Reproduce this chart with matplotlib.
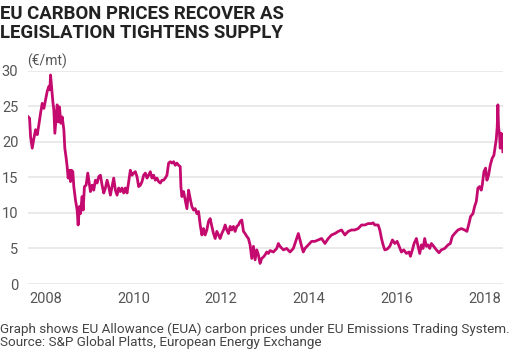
import matplotlib.pyplot as plt
import numpy as np

# EUA carbon price (EUR/mt)
years = [
    2007.606, 2007.636, 2007.659, 2007.697, 2007.735, 2007.773, 2007.811, 2007.848,
    2007.886, 2007.924, 2007.962, 2008.000, 2008.038, 2008.076, 2008.098, 2008.114,
    2008.136, 2008.167, 2008.189, 2008.212, 2008.242, 2008.265, 2008.288, 2008.318,
    2008.348, 2008.379, 2008.417, 2008.439, 2008.470, 2008.492, 2008.515, 2008.545,
    2008.568, 2008.591, 2008.621, 2008.644, 2008.682, 2008.720, 2008.742, 2008.773,
    2008.795, 2008.833, 2008.856, 2008.886, 2008.924, 2008.962, 2008.985, 2009.023,
    2009.061, 2009.098, 2009.136, 2009.174, 2009.212, 2009.250, 2009.288, 2009.326,
    2009.364, 2009.402, 2009.439, 2009.477, 2009.515, 2009.553, 2009.591, 2009.629,
    2009.667, 2009.705, 2009.742, 2009.780, 2009.818, 2009.856, 2009.894, 2009.932,
    2009.970, 2010.008, 2010.045, 2010.083, 2010.121, 2010.159, 2010.197, 2010.235,
    2010.273, 2010.311, 2010.348, 2010.386, 2010.424, 2010.462, 2010.500, 2010.538,
    2010.576, 2010.614, 2010.652, 2010.689, 2010.727, 2010.765, 2010.803, 2010.841,
    2010.879, 2010.917, 2010.955, 2010.992, 2011.030, 2011.068, 2011.083, 2011.106,
    2011.144, 2011.182, 2011.220, 2011.258, 2011.295, 2011.333, 2011.371, 2011.409,
    2011.447, 2011.485, 2011.523, 2011.561, 2011.598, 2011.636, 2011.674, 2011.712,
    2011.750, 2011.788, 2011.826, 2011.864, 2011.902, 2011.939, 2011.977, 2012.015,
    2012.053, 2012.091, 2012.129, 2012.167, 2012.205, 2012.242, 2012.280, 2012.318,
    2012.356, 2012.394, 2012.432, 2012.470, 2012.508, 2012.545, 2012.583, 2012.621,
    2012.659, 2012.697, 2012.735, 2012.773, 2012.811, 2012.848, 2012.886, 2012.924,
    2012.962, 2013.000, 2013.038, 2013.076, 2013.114, 2013.189, 2013.265, 2013.303,
    2013.341, 2013.417, 2013.492, 2013.568, 2013.644, 2013.720, 2013.758, 2013.795,
    2013.833, 2013.871, 2013.909, 2013.985, 2014.061, 2014.136, 2014.212, 2014.288,
    2014.364, 2014.439, 2014.515, 2014.591, 2014.667, 2014.742, 2014.818, 2014.894,
    2014.970, 2015.045, 2015.121, 2015.197, 2015.273, 2015.348, 2015.424, 2015.462,
    2015.500, 2015.576, 2015.614, 2015.652, 2015.689, 2015.727, 2015.780, 2015.841,
    2015.902, 2015.955, 2016.008, 2016.053, 2016.106, 2016.159, 2016.220, 2016.280,
    2016.311, 2016.356, 2016.394, 2016.447, 2016.485, 2016.523, 2016.561, 2016.598,
    2016.636, 2016.674, 2016.712, 2016.750, 2016.788, 2016.841, 2016.902, 2016.962,
    2017.015, 2017.091, 2017.167, 2017.220, 2017.265, 2017.318, 2017.394, 2017.470,
    2017.545, 2017.598, 2017.644, 2017.682, 2017.735, 2017.773, 2017.811, 2017.848,
    2017.886, 2017.924, 2017.947, 2017.985, 2018.023, 2018.053, 2018.091, 2018.129,
    2018.174, 2018.212, 2018.242, 2018.265, 2018.288, 2018.303, 2018.318, 2018.341,
    2018.356, 2018.379, 2018.402, 2018.417,
]
prices = [
    23.5, 23.3, 20.7, 19.1, 20.5, 21.7, 21.0, 22.4,
    24.0, 25.4, 24.7, 25.9, 27.1, 27.8, 27.3, 29.4,
    27.8, 25.6, 24.5, 21.2, 23.5, 25.2, 22.8, 24.9,
    22.6, 23.5, 21.7, 19.1, 17.7, 16.5, 14.9, 16.0,
    14.4, 16.0, 15.8, 13.7, 11.8, 10.4, 8.3, 10.9,
    9.9, 12.3, 10.4, 13.7, 13.9, 15.6, 14.6, 13.0,
    13.9, 13.2, 14.6, 14.2, 15.1, 15.3, 13.9, 12.8,
    13.5, 14.6, 13.7, 12.5, 13.7, 14.9, 13.2, 12.5,
    13.5, 13.0, 13.5, 12.8, 13.5, 12.8, 14.4, 16.0,
    15.3, 15.6, 15.8, 15.1, 13.7, 13.9, 14.4, 15.3,
    15.6, 14.9, 15.3, 15.8, 14.9, 15.3, 14.6, 14.9,
    14.4, 14.2, 14.6, 14.6, 14.9, 15.3, 17.0, 17.2,
    17.0, 17.2, 16.7, 17.0, 16.7, 16.5, 13.7, 12.3,
    13.0, 11.8, 10.6, 13.2, 12.0, 10.9, 10.4, 10.6,
    9.9, 10.2, 8.3, 6.9, 7.8, 6.9, 7.6, 8.8,
    9.2, 8.1, 7.1, 6.4, 7.4, 6.9, 6.4, 7.1,
    7.6, 8.3, 7.6, 7.1, 8.1, 7.6, 8.1, 7.4,
    8.1, 8.3, 8.8, 9.0, 7.4, 7.1, 6.7, 6.4,
    5.5, 3.6, 5.3, 3.4, 4.8, 4.1, 2.9, 3.6,
    3.8, 4.1, 4.5, 4.3, 4.7, 4.5, 5.0, 5.7,
    5.3, 4.8, 5.0, 4.5, 5.0, 6.4, 7.1, 6.2,
    5.3, 4.5, 5.0, 5.5, 6.0, 6.0, 6.2, 6.4,
    5.7, 6.4, 6.9, 7.1, 7.4, 7.6, 6.9, 7.4,
    7.6, 7.6, 7.8, 8.3, 8.3, 8.5, 8.5, 8.6,
    8.3, 8.3, 7.6, 6.4, 5.5, 4.8, 4.9, 5.3,
    6.2, 5.7, 6.0, 5.3, 4.5, 4.8, 4.3, 4.5,
    3.9, 4.8, 5.7, 6.4, 5.3, 4.3, 5.5, 5.0,
    6.4, 5.3, 5.5, 5.0, 5.7, 5.3, 4.8, 4.4,
    4.8, 5.0, 5.5, 5.7, 6.7, 7.1, 7.6, 7.8,
    7.6, 7.4, 8.5, 9.5, 9.9, 10.9, 11.6, 13.5,
    13.7, 13.2, 13.9, 15.8, 16.3, 14.6, 15.3, 16.7,
    17.7, 18.1, 19.3, 20.3, 22.1, 25.2, 22.1, 21.0,
    19.1, 21.2, 20.0, 18.6,
]
year_ticks = [2008, 2010, 2012, 2014, 2016, 2018]
price_ticks = [0, 5, 10, 15, 20, 25, 30]

plt.rcParams['font.family'] = ['Roboto', 'DejaVu Sans']

fig = plt.figure(figsize=(5.31, 3.54), dpi=100)
ax = fig.add_axes([0.0527, 0.1977, 0.8946, 0.6026])

ax.plot(years, prices, color='#c40a6e', lw=2.0, solid_joinstyle='round')
ax.set_xlim(2007.60, 2018.42)
ax.set_ylim(0, 30)

ax.set_xticks(year_ticks)
ax.set_xticklabels([str(y) for y in year_ticks])
ax.set_yticks(price_ticks)
ax.grid(axis='y', color='#e4e4e4', lw=1.1)
ax.set_axisbelow(True)
ax.tick_params(axis='both', length=0, labelsize=10.5, colors='#555555')
ax.tick_params(axis='y', pad=7)
ax.tick_params(axis='x', pad=6)
for s in ax.spines.values():
    s.set_visible(False)

fig.text(0.0, 0.985, 'EU CARBON PRICES RECOVER AS\nLEGISLATION TIGHTENS SUPPLY',
         ha='left', va='top', fontsize=13.4, fontweight='bold', color='#222222',
         linespacing=1.05)
fig.text(0.051, 0.805, '(\u20ac/mt)', ha='left', va='bottom', fontsize=10,
         color='#555555')
fig.text(0.0, 0.015,
         'Graph shows EU Allowance (EUA) carbon prices under EU Emissions Trading System.\n'
         'Source: S&P Global Platts, European Energy Exchange',
         ha='left', va='bottom', fontsize=9.7, color='#444444', linespacing=1.0)

fig.savefig('out.png', dpi=100)
